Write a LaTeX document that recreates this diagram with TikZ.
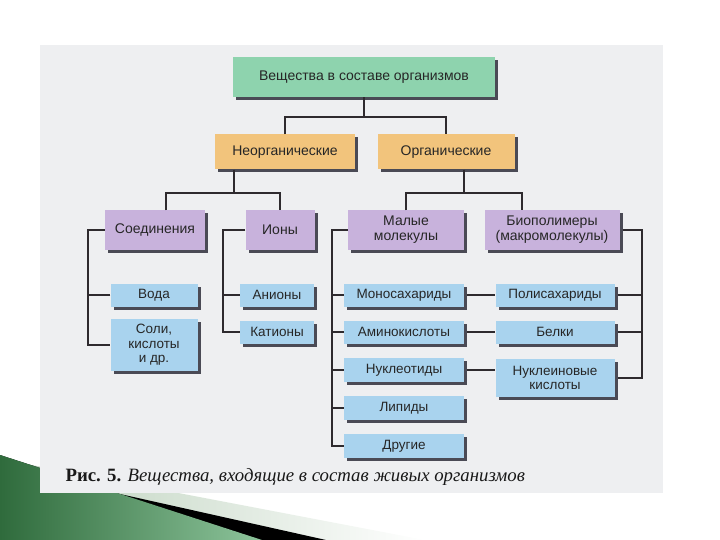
\documentclass[tikz,border=0pt]{standalone}
\usepackage{fontspec}
\usepackage{xcolor}
\usepackage{tikz}
\usetikzlibrary{positioning, shadows}

\newfontfamily\boxfont{Liberation Sans}
\newfontfamily\capfont{Liberation Serif}

\definecolor{pagegray}{HTML}{EEEFF1}
\definecolor{mintgreen}{HTML}{8ED3AE}
\definecolor{peach}{HTML}{F2C47C}
\definecolor{lilac}{HTML}{C8B2DC}
\definecolor{skyblue}{HTML}{A9D3EE}
\definecolor{shadowgray}{HTML}{4A4A55}
\definecolor{linegray}{HTML}{2E2A2E}
\definecolor{darkleaf}{HTML}{2F6B3C}
\definecolor{paleleaf}{HTML}{8DC49B}
\definecolor{mistleaf}{HTML}{B9CFB9}

\begin{document}
\begin{tikzpicture}[
        x=1pt, y=-1pt,
        box/.style={rectangle, inner sep=0pt, align=center, text=black!85,
            font=\boxfont\fontsize{14}{15}\selectfont,
            drop shadow={shadow xshift=3pt, shadow yshift=-3pt, fill=shadowgray, opacity=1}},
        mainbox/.style={box, fill=mintgreen},
        classbox/.style={box, fill=peach},
        groupbox/.style={box, fill=lilac},
        leafbox/.style={box, fill=skyblue, font=\boxfont\fontsize{13.5}{14.5}\selectfont},
        link/.style={draw=linegray, line width=1.1pt}
    ]
    \useasboundingbox (0,0) rectangle (720,540);

    % Slide corner decoration
    \shade[left color=mistleaf, right color=white] (0,459) -- (425,540) -- (0,540) -- cycle;
    \fill[black] (0,455) -- (120,494) -- (326,540) -- (0,540) -- cycle;
    \shade[left color=darkleaf, right color=paleleaf] (0,455) -- (262,540) -- (0,540) -- cycle;

    % Scanned page
    \fill[pagegray] (40,45) rectangle (663,493);

    % Nodes for the classification
    \node[mainbox, minimum width=262, minimum height=40] (top) at (364,77) {Вещества в составе организмов};

    \node[classbox, minimum width=140, minimum height=35] (inorg) at (285,152) {Неорганические};
    \node[classbox, minimum width=137, minimum height=35] (org) at (446,152) {Органические};

    \node[groupbox, minimum width=100, minimum height=39] (comp) at (155,230) {Соединения};
    \node[groupbox, minimum width=69, minimum height=39] (ions) at (280,230) {Ионы};
    \node[groupbox, minimum width=116, minimum height=39] (small) at (406,230) {Малые\\молекулы};
    \node[groupbox, minimum width=135, minimum height=39] (bio) at (552,230) {Биополимеры\\(макромолекулы)};

    \node[leafbox, minimum width=87, minimum height=23] (water) at (154,295) {Вода};
    \node[leafbox, minimum width=87, minimum height=52] (salts) at (154,345) {Соли,\\кислоты\\и др.};
    \node[leafbox, minimum width=74, minimum height=23] (anions) at (277,295) {Анионы};
    \node[leafbox, minimum width=74, minimum height=23] (cations) at (277,332) {Катионы};

    \node[leafbox, minimum width=120, minimum height=23] (mono) at (404,295) {Моносахариды};
    \node[leafbox, minimum width=120, minimum height=23] (amino) at (404,332) {Аминокислоты};
    \node[leafbox, minimum width=120, minimum height=24] (nucleo) at (404,370) {Нуклеотиды};
    \node[leafbox, minimum width=120, minimum height=24] (lipids) at (404,408) {Липиды};
    \node[leafbox, minimum width=120, minimum height=24] (other) at (404,446) {Другие};

    \node[leafbox, minimum width=119, minimum height=23] (poly) at (555,295) {Полисахариды};
    \node[leafbox, minimum width=119, minimum height=23] (proteins) at (555,332) {Белки};
    \node[leafbox, minimum width=119, minimum height=38] (nucleic) at (555,378) {Нуклеиновые\\кислоты};

    \node[anchor=west, text=black!90, font=\capfont\fontsize{18.8}{21}\selectfont] (caption) at (62,477)
        {\textbf{Рис. 5.} \textit{Вещества, входящие в состав живых организмов}};

    % Branch points
    \coordinate (b0) at (364,117);
    \coordinate (b1) at (234,193);
    \coordinate (b2) at (464,193);
    \coordinate (compbar) at (88,0);
    \coordinate (ionsbar) at (223,0);
    \coordinate (smallbar) at (332,0);
    \coordinate (biobar) at (642,0);

    % Edges between levels
    \draw[link] (top.south) -- (b0);
    \draw[link] (inorg.north) |- (b0) -| (org.north);
    \draw[link] (inorg.south -| b1) -- (b1);
    \draw[link] ([xshift=11pt]comp.north) |- (b1) -| (ions.north);
    \draw[link] (org.south -| b2) -- (b2);
    \draw[link] (small.north) |- (b2) -| ([xshift=-30pt]bio.north);

    % Edges to the lists
    \draw[link] (comp.west) -| (compbar |- salts.west) -- (salts.west);
    \draw[link] (water.west) -- (water.west -| compbar);
    \draw[link] (ions.west) -| (ionsbar |- cations.west) -- (cations.west);
    \draw[link] (anions.west) -- (anions.west -| ionsbar);
    \draw[link] (small.west) -| (smallbar |- other.west) -- (other.west);
    \foreach \n in {mono, amino, nucleo, lipids}
        \draw[link] (\n.west) -- (\n.west -| smallbar);
    \draw[link] ([xshift=3pt]bio.east) -| (biobar |- nucleic.east) -- ([xshift=3pt]nucleic.east);
    \foreach \n in {poly, proteins}
        \draw[link] ([xshift=3pt]\n.east) -- (\n.east -| biobar);

    % Monomers to polymers
    \draw[link] ([xshift=3pt]mono.east) -- (poly.west);
    \draw[link] ([xshift=3pt]amino.east) -- (proteins.west);
    \draw[link] ([xshift=3pt]nucleo.east) -- (nucleo.east -| nucleic.west);

\end{tikzpicture}
\end{document}
